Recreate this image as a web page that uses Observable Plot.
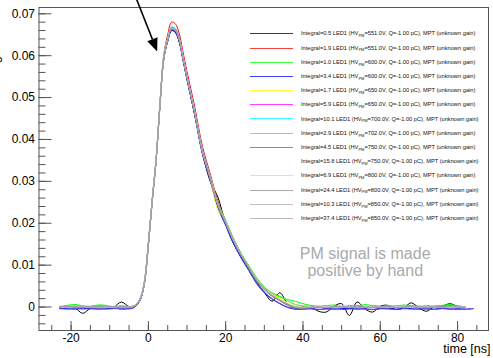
<!DOCTYPE html>
<html>
<head>
<meta charset="utf-8">
<script src="https://cdn.jsdelivr.net/npm/d3@7"></script>
<script src="https://cdn.jsdelivr.net/npm/@observablehq/plot@0.6"></script>
<style>
  html, body { margin: 0; padding: 0; background: #fff; }
  #chart svg { display: block; }
</style>
</head>
<body>
<div id="chart"></div>
<script>
// time axis (ns)
const time = [-23,-21,-19,-17,-15,-13,-11,-9,-7,-5,
  -4,-3,-2,-1,0,1,2,3,4,5,6,7,8,9,10,
  12,14,16,18,20,22,24,26,28,30,32,34,36,38,40,
  42,44,46,48,50,52,54,56,58,60,62,64,66,68,70,72,74,76,78,80,82,84];

// legend data
const integral = [0.5, 1.9, 1.0, 3.4, 1.7, 5.9, 10.1, 2.9, 4.5, 15.8, 6.9, 24.4, 10.3, 37.4];
const hvPM = ["551.0","551.0","600.0","600.0","650.0","650.0","700.0","702.0","750.0","750.0","800.0","800.0","850.0","850.0"];

// signals (one per LED setting)
const sig05 = [0.0000,0.0001,-0.0002,-0.0015,-0.0003,0.0002,0.0001,0.0000,0.0012,0.0001,
  0.0002,0.0006,0.0020,0.0058,0.0148,0.0252,0.0350,0.0480,0.0592,0.0635,0.0660,0.0656,0.0632,0.0588,0.0543,
  0.0458,0.0368,0.0300,0.0262,0.0198,0.0152,0.0120,0.0090,0.0060,0.0035,0.0014,0.0034,0.0008,-0.0004,0.0001,
  0.0000,-0.0010,-0.0012,0.0002,0.0008,-0.0020,0.0012,-0.0004,-0.0012,0.0002,0.0004,-0.0006,-0.0002,0.0010,-0.0002,-0.0010,0.0001,0.0002,0.0008,0.0001,null,null];
const sig19 = [0.0000,0.0002,0.0001,-0.0001,0.0000,0.0002,0.0000,-0.0001,0.0001,0.0000,
  0.0000,0.0006,0.0021,0.0058,0.0148,0.0254,0.0352,0.0488,0.0603,0.0650,0.0680,0.0676,0.0652,0.0607,0.0562,
  0.0477,0.0383,0.0318,0.0252,0.0206,0.0163,0.0127,0.0096,0.0066,0.0044,0.0026,0.0016,0.0005,0.0000,-0.0003,
  -0.0002,0.0000,-0.0003,0.0001,-0.0002,0.0000,0.0002,-0.0002,0.0001,-0.0003,0.0000,0.0001,-0.0002,0.0000,0.0002,-0.0001,0.0000,0.0001,-0.0002,0.0000,0.0001,null];
const sig10 = [0.0001,0.0004,0.0006,0.0003,0.0002,0.0005,0.0004,0.0001,0.0003,0.0001,
  0.0002,0.0008,0.0023,0.0062,0.0152,0.0257,0.0354,0.0486,0.0598,0.0641,0.0667,0.0663,0.0640,0.0596,0.0551,
  0.0467,0.0375,0.0312,0.0248,0.0207,0.0164,0.0128,0.0099,0.0070,0.0048,0.0032,0.0024,0.0018,0.0014,0.0008,
  0.0004,0.0002,0.0003,0.0005,0.0001,0.0004,0.0002,0.0006,0.0003,0.0001,0.0004,0.0002,0.0005,0.0003,0.0001,0.0004,0.0002,0.0004,0.0006,0.0003,0.0001,null];
const sig34 = [-0.0003,-0.0004,-0.0005,-0.0003,-0.0004,-0.0005,-0.0004,-0.0003,-0.0005,-0.0004,
  -0.0002,0.0005,0.0020,0.0060,0.0152,0.0256,0.0352,0.0484,0.0594,0.0634,0.0660,0.0655,0.0632,0.0588,0.0543,
  0.0458,0.0364,0.0302,0.0236,0.0195,0.0152,0.0117,0.0087,0.0056,0.0034,0.0019,0.0008,-0.0001,-0.0005,-0.0005,
  -0.0004,-0.0006,-0.0004,-0.0005,-0.0004,-0.0003,-0.0005,-0.0004,-0.0006,-0.0004,-0.0003,-0.0005,-0.0003,-0.0004,-0.0005,-0.0004,-0.0005,-0.0003,-0.0005,-0.0004,-0.0005,-0.0004];
const sig17 = [0.0001,0.0000,0.0002,0.0001,-0.0001,0.0000,0.0002,0.0001,0.0000,-0.0001,
  0.0000,0.0007,0.0022,0.0061,0.0150,0.0256,0.0353,0.0485,0.0597,0.0638,0.0665,0.0661,0.0638,0.0594,0.0549,
  0.0464,0.0371,0.0305,0.0232,0.0205,0.0160,0.0126,0.0095,0.0066,0.0045,0.0031,0.0021,0.0010,0.0003,0.0000,
  0.0001,-0.0001,0.0002,0.0000,0.0003,0.0001,-0.0001,0.0002,0.0000,0.0001,-0.0002,0.0001,0.0003,0.0000,0.0001,0.0002,-0.0001,0.0000,0.0002,0.0001,0.0000,null];
const sig59 = [0.0000,-0.0001,0.0001,0.0000,0.0001,-0.0001,0.0000,0.0001,-0.0001,0.0000,
  0.0001,0.0008,0.0024,0.0064,0.0155,0.0258,0.0354,0.0486,0.0598,0.0640,0.0668,0.0665,0.0643,0.0598,0.0554,
  0.0469,0.0376,0.0312,0.0247,0.0203,0.0160,0.0124,0.0094,0.0064,0.0042,0.0027,0.0016,0.0006,0.0000,-0.0001,
  0.0000,-0.0002,0.0001,0.0000,-0.0001,0.0001,0.0000,-0.0002,0.0001,0.0000,-0.0001,0.0002,0.0000,-0.0001,0.0001,0.0000,-0.0001,0.0001,0.0003,0.0000,-0.0001,null];
const sig101 = [0.0000,0.0001,0.0000,0.0001,0.0000,0.0000,0.0001,0.0000,0.0000,0.0001,
  0.0001,0.0007,0.0022,0.0060,0.0150,0.0255,0.0352,0.0485,0.0598,0.0641,0.0670,0.0666,0.0641,0.0596,0.0551,
  0.0466,0.0373,0.0310,0.0245,0.0203,0.0160,0.0125,0.0095,0.0065,0.0043,0.0028,0.0017,0.0007,0.0000,-0.0002,
  -0.0001,0.0000,-0.0001,0.0000,-0.0001,0.0000,0.0000,-0.0001,0.0000,-0.0001,0.0000,0.0000,-0.0001,0.0000,0.0000,-0.0001,0.0000,-0.0001,0.0000,0.0000,-0.0001,null];
const sig29 = [0.0002,0.0001,0.0003,0.0002,0.0000,0.0003,0.0002,0.0001,0.0002,0.0001,
  0.0001,0.0007,0.0022,0.0059,0.0149,0.0254,0.0351,0.0484,0.0597,0.0639,0.0666,0.0662,0.0639,0.0594,0.0550,
  0.0466,0.0374,0.0311,0.0247,0.0206,0.0163,0.0128,0.0098,0.0068,0.0046,0.0034,0.0026,0.0015,0.0006,0.0003,
  0.0002,0.0000,0.0003,0.0001,0.0002,0.0000,0.0003,0.0001,0.0004,0.0002,0.0000,0.0002,0.0003,0.0001,0.0002,0.0000,0.0002,0.0003,0.0001,0.0002,0.0000,null];
const sig45 = [-0.0004,-0.0005,-0.0003,-0.0005,-0.0004,-0.0003,-0.0005,-0.0004,-0.0003,-0.0004,
  -0.0003,0.0004,0.0019,0.0058,0.0150,0.0254,0.0350,0.0482,0.0594,0.0636,0.0662,0.0658,0.0635,0.0590,0.0545,
  0.0460,0.0366,0.0304,0.0239,0.0197,0.0154,0.0119,0.0089,0.0058,0.0036,0.0020,0.0009,0.0000,-0.0004,-0.0005,
  -0.0004,-0.0006,-0.0005,-0.0004,-0.0006,-0.0005,-0.0004,-0.0005,-0.0006,-0.0004,-0.0005,-0.0006,-0.0004,-0.0005,-0.0004,-0.0005,-0.0006,-0.0004,-0.0005,-0.0006,-0.0005,-0.0004];
const sig158 = [0.0000,0.0000,0.0001,0.0000,0.0000,0.0001,0.0000,0.0000,0.0001,0.0000,
  0.0001,0.0007,0.0022,0.0060,0.0151,0.0256,0.0353,0.0486,0.0598,0.0641,0.0669,0.0665,0.0641,0.0596,0.0551,
  0.0466,0.0373,0.0311,0.0246,0.0204,0.0161,0.0126,0.0096,0.0066,0.0044,0.0029,0.0018,0.0008,0.0001,-0.0001,
  0.0000,-0.0001,0.0000,0.0000,-0.0001,0.0000,0.0001,0.0000,-0.0001,0.0000,0.0000,0.0001,0.0000,-0.0001,0.0000,0.0000,0.0001,0.0000,-0.0001,0.0000,0.0000,null];
const sig69 = [0.0001,0.0000,0.0001,0.0002,0.0001,0.0000,0.0001,0.0002,0.0001,0.0000,
  0.0001,0.0007,0.0022,0.0060,0.0150,0.0255,0.0351,0.0484,0.0597,0.0639,0.0666,0.0662,0.0639,0.0594,0.0549,
  0.0464,0.0371,0.0309,0.0244,0.0202,0.0159,0.0124,0.0094,0.0064,0.0043,0.0029,0.0018,0.0008,0.0001,0.0000,
  0.0001,0.0000,0.0001,0.0002,0.0000,0.0001,0.0000,0.0002,0.0001,0.0000,0.0001,0.0000,0.0002,0.0001,0.0000,0.0001,0.0002,0.0000,0.0001,0.0000,0.0001,null];
const sig244 = [0.0000,0.0001,0.0000,-0.0001,0.0000,0.0001,0.0002,0.0000,0.0001,0.0000,
  0.0000,0.0006,0.0021,0.0059,0.0149,0.0254,0.0351,0.0484,0.0596,0.0637,0.0664,0.0660,0.0636,0.0592,0.0547,
  0.0462,0.0370,0.0308,0.0243,0.0201,0.0158,0.0123,0.0093,0.0062,0.0041,0.0026,0.0015,0.0004,-0.0002,-0.0003,
  -0.0001,0.0000,-0.0002,0.0001,0.0000,-0.0001,0.0002,0.0000,-0.0002,0.0000,0.0001,-0.0001,0.0000,0.0003,0.0000,-0.0002,0.0000,0.0001,0.0004,0.0000,-0.0001,null];
const sig103 = [0.0001,0.0000,0.0000,0.0001,0.0000,0.0000,0.0001,0.0000,0.0000,0.0001,
  0.0001,0.0007,0.0022,0.0060,0.0150,0.0255,0.0352,0.0485,0.0597,0.0639,0.0667,0.0663,0.0639,0.0594,0.0549,
  0.0465,0.0372,0.0310,0.0245,0.0203,0.0160,0.0125,0.0095,0.0065,0.0043,0.0028,0.0017,0.0007,0.0000,-0.0001,
  0.0000,0.0000,-0.0001,0.0000,0.0001,0.0000,0.0000,-0.0001,0.0000,0.0001,0.0000,0.0000,-0.0001,0.0000,0.0001,0.0000,0.0000,-0.0001,0.0000,0.0001,0.0000,null];
const sig374 = [0.0000,0.0000,0.0001,0.0000,0.0000,0.0000,0.0001,0.0000,0.0000,0.0000,
  0.0001,0.0007,0.0022,0.0060,0.0150,0.0255,0.0352,0.0485,0.0598,0.0640,0.0668,0.0664,0.0640,0.0595,0.0550,
  0.0465,0.0372,0.0310,0.0245,0.0203,0.0160,0.0125,0.0095,0.0065,0.0043,0.0028,0.0017,0.0007,0.0000,-0.0002,
  -0.0001,0.0000,-0.0001,0.0000,0.0000,-0.0001,0.0000,0.0000,-0.0001,0.0000,0.0000,-0.0001,0.0000,0.0000,-0.0001,0.0000,0.0000,-0.0001,0.0000,0.0000,-0.0001,null];

const signals = [sig05, sig19, sig10, sig34, sig17, sig59, sig101, sig29, sig45, sig158, sig69, sig244, sig103, sig374];

// tick values
const yMajor = [0, 0.01, 0.02, 0.03, 0.04, 0.05, 0.06, 0.07];
const yMinor = d3.range(-0.004, 0.0711, 0.002);
const xMajor = [-20, 0, 20, 40, 60, 80];
const xMinor = d3.range(-25, 86, 5);

// styles
const colors = ["#000000","#ff0000","#00ff00","#0000ff","#ffff00","#ff00ff","#00ffff","#59d454","#5954d8","#ffffff","#d6d0ca","#8c8c8c","#a8a8a8","#a2a2a2"];
const axisColor = "#555";
const font = "'Liberation Sans', Arial, Helvetica, sans-serif";

// annotations (data coordinates)
const yTitle = "Normalized signal";
const noteText = "PM signal is made\npositive by hand";
const noteAt = {time: 56.1, value: 0.0108};
const arrowFrom = {time: -2.9, value: 0.0733};
const arrowTo = {time: 2.4, value: 0.0609};

const lineMarks = signals.map((s, i) =>
  Plot.line(time, {x: time, y: s, stroke: colors[i], strokeWidth: 1, curve: "catmull-rom"})
);

const chart = Plot.plot({
  width: 493,
  height: 358,
  marginLeft: 38.5,
  marginRight: 5,
  marginTop: 7,
  marginBottom: 28,
  style: {fontFamily: font, background: "#fff", color: "#000"},
  x: {domain: [-28.3, 88.0]},
  y: {domain: [-0.0056, 0.0715]},
  marks: [
    ...lineMarks,
    Plot.axisY({ticks: yMinor, tickSize: 7, dx: 7, text: null, label: null, stroke: axisColor}),
    Plot.axisY({ticks: yMajor, tickSize: 13, dx: 13, text: null, label: null, stroke: axisColor}),
    Plot.axisY({ticks: yMajor, tickSize: 0, tickPadding: 4, label: null, fontSize: 12,
      tickFormat: d => d === 0 ? "0" : d.toFixed(2)}),
    Plot.axisX({ticks: xMinor, tickSize: 5, dy: -5, text: null, label: null, stroke: axisColor}),
    Plot.axisX({ticks: xMajor, tickSize: 9, dy: -9, text: null, label: null, stroke: axisColor}),
    Plot.axisX({ticks: xMajor, tickSize: 0, tickPadding: 3, label: null, fontSize: 12,
      tickFormat: d => String(d)}),
    Plot.frame({stroke: axisColor}),
    Plot.text(["time [ns]"], {frameAnchor: "bottom-right", textAnchor: "end", dx: 2, dy: 22.5, fontSize: 12.5}),
    Plot.text([noteText], {x: () => noteAt.time, y: () => noteAt.value, fontSize: 16, fill: "#aaaaaa", lineHeight: 1.08})
  ]
});

document.getElementById("chart").appendChild(chart);

const svg = d3.select(chart);

// y-axis title, mostly outside the canvas as in the original
svg.append("text")
  .attr("transform", "translate(-1.5,142) rotate(-90)")
  .attr("text-anchor", "start")
  .attr("font-family", font).attr("font-size", 13).attr("fill", "#000")
  .text(yTitle);

// arrow, positioned through the plot's scales
const sx = chart.scale("x"), sy = chart.scale("y");
const x0 = sx.apply(arrowFrom.time), y0 = sy.apply(arrowFrom.value);
const x1 = sx.apply(arrowTo.time), y1 = sy.apply(arrowTo.value);
const L = Math.hypot(x1 - x0, y1 - y0), ux = (x1 - x0) / L, uy = (y1 - y0) / L;
const head = 13, half = 5.5;
const bx = x1 - ux * head, by = y1 - uy * head;
const ag = svg.append("g");
ag.append("line").attr("x1", x0).attr("y1", y0).attr("x2", bx).attr("y2", by)
  .attr("stroke", "#000").attr("stroke-width", 1.6);
ag.append("path")
  .attr("d", `M${x1},${y1}L${bx - uy * half},${by + ux * half}L${bx + uy * half},${by - ux * half}Z`)
  .attr("fill", "#000");

// legend
const lg = svg.append("g").attr("font-family", font).attr("font-size", 5.7)
  .attr("fill", "#111").attr("text-anchor", "start");
integral.forEach((v, i) => {
  const y = 33.3 + i * 14.2;
  const yl = Math.round(y) + 0.5;
  lg.append("line").attr("x1", 250).attr("x2", 293).attr("y1", yl).attr("y2", yl)
    .attr("stroke", colors[i]).attr("stroke-width", 1).attr("stroke-opacity", 0.75);
  const t = lg.append("text").attr("x", 301).attr("y", y + 2);
  t.append("tspan").text(`Integral=${v.toFixed(1)} LED1 (HV`);
  t.append("tspan").attr("font-size", 4).attr("dy", 1.8).text("PM");
  t.append("tspan").attr("dy", -1.8).text(`=${hvPM[i]}V, Q=-1.00 pC), MPT (unknown gain)`);
});
</script>
</body>
</html>
